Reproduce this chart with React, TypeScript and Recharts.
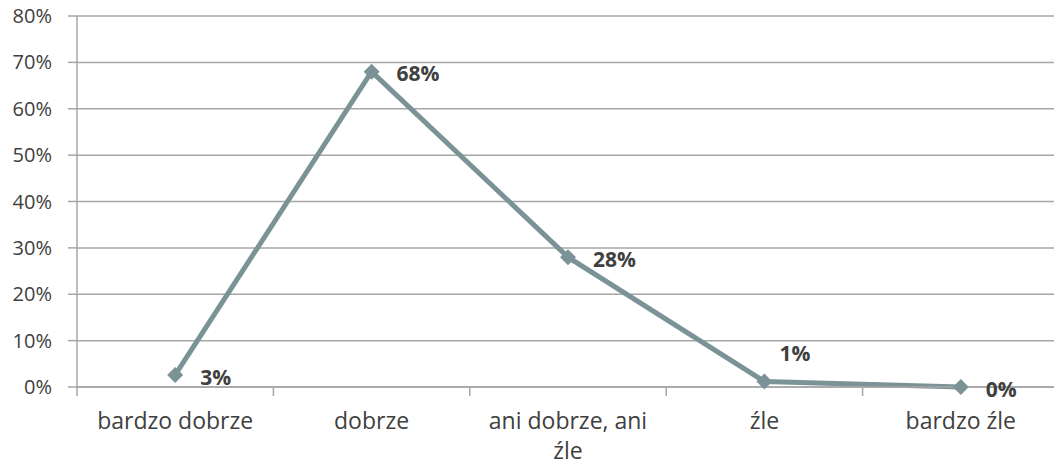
import React from 'react';
import { LineChart, Line, XAxis, YAxis, CartesianGrid } from 'recharts';

const categories = ['bardzo dobrze', 'dobrze', 'ani dobrze, ani źle', 'źle', 'bardzo źle'];
const shares = [0.026, 0.68, 0.28, 0.012, 0.0];
const shareLabels = ['3%', '68%', '28%', '1%', '0%'];
const yTicks = [0, 0.1, 0.2, 0.3, 0.4, 0.5, 0.6, 0.7, 0.8];

const data = categories.map((name, i) => ({
  pos: i + 0.5,
  name,
  value: shares[i],
  label: shareLabels[i],
}));

const xTicks: number[] = [];
for (let i = 0; i <= categories.length * 2; i++) xTicks.push(i / 2);

const FONT = '"Open Sans", Lato, sans-serif';
const TEXT = '#404040';
const GRID = '#a6a6a6';
const LINE = '#7b9397';
const CAT_SIZE = 23;

// greedy word wrap, measured with a canvas
let ctx: CanvasRenderingContext2D | null = null;
const measure = (s: string) => {
  if (!ctx) {
    ctx = document.createElement('canvas').getContext('2d');
    if (ctx) ctx.font = `${CAT_SIZE}px ${FONT}`;
  }
  return ctx ? ctx.measureText(s).width : s.length * CAT_SIZE * 0.55;
};
const wrap = (s: string, maxW: number) => {
  const lines: string[] = [];
  let cur = '';
  s.split(' ').forEach((w) => {
    const next = cur ? `${cur} ${w}` : w;
    if (cur && measure(next) > maxW) {
      lines.push(cur);
      cur = w;
    } else cur = next;
  });
  if (cur) lines.push(cur);
  return lines;
};

const XTick = (props: any) => {
  const { x, y, payload } = props;
  const v = payload.value;
  if (Number.isInteger(v)) {
    return <line x1={x} y1={y} x2={x} y2={y + 9} stroke={GRID} strokeWidth={1.5} />;
  }
  const lines = wrap(categories[Math.floor(v)], 176);
  return (
    <text x={x} y={y + 42} textAnchor="middle" fontSize={CAT_SIZE} fontFamily={FONT} fill={TEXT}>
      {lines.map((l, i) => (
        <tspan key={i} x={x} dy={i === 0 ? 0 : 30}>
          {l}
        </tspan>
      ))}
    </text>
  );
};

const Diamond = (props: any) => {
  const { cx, cy } = props;
  const r = 8;
  return (
    <polygon
      points={`${cx},${cy - r} ${cx + r},${cy} ${cx},${cy + r} ${cx - r},${cy}`}
      fill={LINE}
    />
  );
};

const PointLabel = (props: any) => {
  const { x, y, index } = props;
  const above = index === 3;
  const dx = above ? 15 : 25;
  const dy = above ? -26 : 4;
  return (
    <text
      x={x + dx}
      y={y + dy}
      dominantBaseline="middle"
      fontSize={21}
      fontWeight="bold"
      fontFamily={FONT}
      fill={TEXT}
    >
      {shareLabels[index]}
    </text>
  );
};

export default function App() {
  return (
    <div style={{ position: 'absolute', left: 0, top: 0, width: 1054, height: 468, overflow: 'hidden', background: '#fff' }}>
      <LineChart width={1062} height={468} data={data} margin={{ top: 16, right: 3, bottom: 0, left: 0 }}>
        <CartesianGrid vertical={false} stroke={GRID} strokeWidth={1.5} />
        <XAxis
          dataKey="pos"
          type="number"
          domain={[0, categories.length]}
          ticks={xTicks}
          interval={0}
          height={81}
          tickSize={0}
          tickMargin={0}
          tickLine={false}
          axisLine={{ stroke: GRID, strokeWidth: 1.5 }}
          tick={<XTick />}
        />
        <YAxis
          type="number"
          domain={[0, 0.8]}
          ticks={yTicks}
          width={77}
          tickSize={9}
          tickMargin={16}
          tickLine={{ stroke: GRID, strokeWidth: 1.5 }}
          axisLine={{ stroke: GRID, strokeWidth: 1.5 }}
          tickFormatter={(v: number) => `${Math.round(v * 100)}%`}
          tick={{ fill: TEXT, fontSize: 20, fontFamily: FONT }}
        />
        <Line
          dataKey="value"
          stroke={LINE}
          strokeWidth={5}
          dot={<Diamond />}
          activeDot={false}
          label={<PointLabel />}
          isAnimationActive={false}
        />
      </LineChart>
    </div>
  );
}
